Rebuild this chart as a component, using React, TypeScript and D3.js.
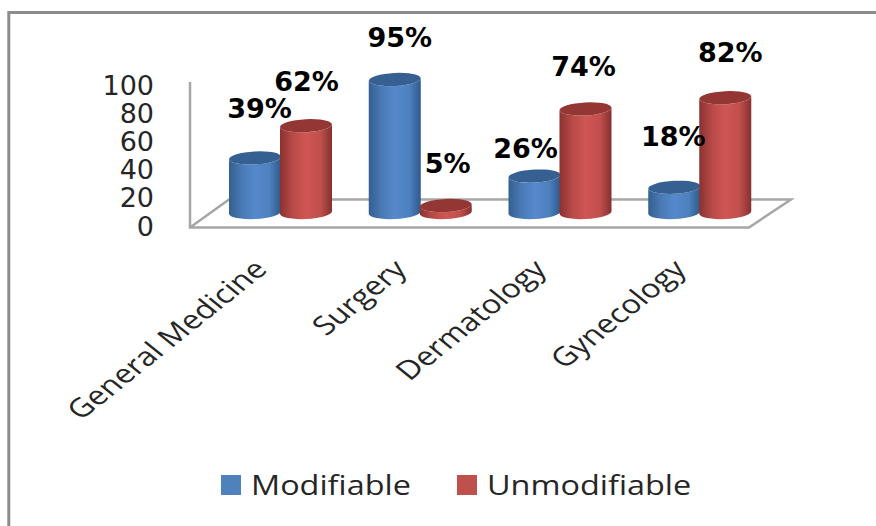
import React from "react";
import * as d3 from "d3";

const categories = ["General Medicine", "Surgery", "Dermatology", "Gynecology"];
const seriesNames = ["Modifiable", "Unmodifiable"];
const modifiable = [39, 95, 26, 18];
const unmodifiable = [62, 5, 74, 82];
const axisTicks = [0, 20, 40, 60, 80, 100];
const seriesValues = [modifiable, unmodifiable];
const topShades = ["#376092", "#943634"];
const legendColors = ["#4f81bd", "#c0504d"];
const gradientStops = [
  ["#33608f", "#4a7ab5", "#5589cc", "#4d80be", "#2f5a8a"],
  ["#8a3230", "#b84a47", "#cf5653", "#c04f4c", "#843030"],
];

const W = 876;
const H = 526;
const FONT = "'DejaVu Sans', sans-serif";
const TEXT_FONT = "'Open Sans', sans-serif";

// Column position and height share one scale so the value axis and columns agree.
const groupX = d3.scaleBand<string>().domain(categories).range([211, 770]).paddingInner(0).paddingOuter(0);
const barW = 52;
const barHeight = d3.scaleLinear().domain([0, 100]).range([0, 140]);
const axisY = d3.scaleLinear().domain([0, 100]).range([226, 85]);
const BASE_Y = 212.5;
const RX = barW / 2;
const RY = 6.5;
const TILT = -3;

function cylinderPath(x: number, topY: number, bottomY: number) {
  const dy = Math.sin((TILT * Math.PI) / 180) * RX;
  const l = x;
  const r = x + barW;
  return `M${l},${topY - dy}L${l},${bottomY - dy}A${RX},${RY} ${TILT} 0 0 ${r},${bottomY + dy}L${r},${topY + dy}A${RX},${RY} ${TILT} 0 1 ${l},${topY - dy}Z`;
}

// Per-label nudges: some percentages sit off-centre from their column.
const labelOffsets = [
  [[4.5, -49], [0.5, -44]],
  [[5, -42.5], [2, -42.5]],
  [[-9, -28], [-2, -42]],
  [[-1, -51], [5, -45]],
];

export default function App() {
  return (
    <svg
      width={W}
      height={H}
      viewBox={`0 0 ${W} ${H}`}
      style={{ position: "absolute", left: 0, top: 0, background: "#fff" }}
    >
      <defs>
        {gradientStops.map((stops, i) => (
          <linearGradient key={i} id={`cyl${i}`} x1="0" x2="1" y1="0" y2="0">
            {stops.map((c, j) => (
              <stop key={j} offset={`${[0, 25, 50, 78, 100][j]}%`} stopColor={c} />
            ))}
          </linearGradient>
        ))}
      </defs>

      {/* outer chart frame */}
      <path d={`M8.8,${H}L8.8,12.5H${W}`} fill="none" stroke="#8c8c8c" strokeWidth={3} />

      {/* floor and back wall */}
      <path
        d="M190,82V227.5H749L791,199.5H229L190,227.5"
        fill="none"
        stroke="#a6a6a6"
        strokeWidth={2.5}
        strokeLinejoin="miter"
      />

      {axisTicks.map((t) => (
        <text
          key={t}
          x={154}
          y={axisY(t)}
          textAnchor="end"
          dominantBaseline="central"
          fontFamily={FONT}
          fontSize={27}
          fill="#262626"
        >
          {t}
        </text>
      ))}

      {categories.map((c, ci) => {
        const gx = groupX(c)! + 18;
        return (
          <g key={c}>
            {seriesValues.map((vals, si) => {
              const x = gx + si * (barW - 1);
              const topY = BASE_Y - barHeight(vals[ci]);
              const cx = x + barW / 2;
              return (
                <g key={si}>
                  <path d={cylinderPath(x, topY, BASE_Y)} fill={`url(#cyl${si})`} />
                  <ellipse
                    cx={cx}
                    cy={topY}
                    rx={RX}
                    ry={RY}
                    fill={topShades[si]}
                    transform={`rotate(${TILT} ${cx} ${topY})`}
                  />
                </g>
              );
            })}
          </g>
        );
      })}

      {/* value labels sit above the columns and over them */}
      {categories.map((c, ci) => {
        const gx = groupX(c)! + 18;
        return seriesValues.map((vals, si) => {
          const x = gx + si * (barW - 1);
          const topY = BASE_Y - barHeight(vals[ci]);
          const [dx, dy] = labelOffsets[ci][si];
          return (
            <text
              key={`${c}-${si}`}
              x={x + barW / 2 + dx}
              y={topY + dy}
              textAnchor="middle"
              dominantBaseline="central"
              fontFamily={FONT}
              fontWeight="bold"
              fontSize={27}
              fill="#000"
            >
              {vals[ci]}%
            </text>
          );
        });
      })}

      {/* category labels: a 45 degree slant widened along x */}
      {categories.map((c) => (
        <text
          key={c}
          transform={`translate(${groupX(c)! + 49},264) scale(1.25,1) rotate(-45)`}
          textAnchor="end"
          dominantBaseline="central"
          fontFamily={TEXT_FONT}
          fontSize={26}
          fill="#262626"
        >
          {c}
        </text>
      ))}

      {seriesNames.map((name, i) => {
        const x = [221, 457][i];
        return (
          <g key={name}>
            <rect x={x} y={475} width={20} height={20} fill={legendColors[i]} />
            <text
              transform={`translate(${x + 30},485) scale(1.2,1)`}
              dominantBaseline="central"
              fontFamily={TEXT_FONT}
              fontSize={27}
              fill="#262626"
            >
              {name}
            </text>
          </g>
        );
      })}
    </svg>
  );
}
